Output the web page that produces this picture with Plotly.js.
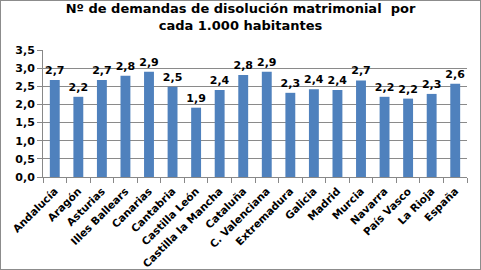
<!DOCTYPE html>
<html><head><meta charset="utf-8">
<script src="https://cdn.plot.ly/plotly-3.0.1.min.js"></script>
<style>
html,body{margin:0;padding:0;background:#fff;}
#c{width:479px;height:268px;border:1px solid #8c8c8c;}
</style></head>
<body><div id="c"></div>
<script>
const categories = ["Andalucía","Aragón","Asturias","Illes Ballears","Canarias","Cantabria","Castilla León","Castilla la Mancha","Cataluña","C. Valenciana","Extremadura","Galicia","Madrid","Murcia","Navarra","País Vasco","La Rioja","España"];
const values = [2.67,2.21,2.67,2.79,2.90,2.49,1.91,2.40,2.81,2.90,2.32,2.42,2.40,2.66,2.21,2.16,2.29,2.57];

const fontFam = "DejaVu Sans, Verdana, sans-serif";
const data = [{
  type: "bar",
  x: categories,
  y: values,
  marker: {color: "#4F81BD"},
  width: 0.42,
  texttemplate: "%{y:.1f}",
  textposition: "outside",
  constraintext: "none",
  cliponaxis: false,
  textfont: {family: fontFam, size: 11, color: "#000", weight: "bold"},
  hoverinfo: "none"
}];
const layout = {
  width: 479, height: 268,
  separators: ",.",
  margin: {l: 42, r: 13, t: 49, b: 92},
  paper_bgcolor: "#fff", plot_bgcolor: "#fff",
  showlegend: false,
  uniformtext: {mode: false},
  title: {text: "<b>Nº de demandas de disolución matrimonial  por<br>cada 1.000 habitantes</b>",
    x: 0.5, xanchor: "center", y: 0.955, yanchor: "top",
    font: {family: fontFam, size: 13, color: "#000"}},
  xaxis: {
    type: "category",
    tickangle: -45,
    tickfont: {family: fontFam, size: 10.5, color: "#000", weight: "bold"},
    ticklabelstandoff: 3,
    showline: true, linecolor: "#888", linewidth: 1,
    ticks: "outside", ticklen: 5, tickcolor: "#888",
    tickson: "boundaries",
    showgrid: false
  },
  yaxis: {
    range: [0, 3.5],
    dtick: 0.5,
    tickformat: ".1f",
    tickfont: {family: fontFam, size: 11, color: "#000", weight: "bold"},
    showline: true, linecolor: "#888", linewidth: 1,
    ticks: "outside", ticklen: 5, tickcolor: "#888",
    showgrid: true, gridcolor: "#8a8a8a", gridwidth: 1,
    zeroline: false
  },
  bargap: 0.58
};
Plotly.newPlot("c", data, layout, {displayModeBar: false, staticPlot: true});
</script></body></html>
